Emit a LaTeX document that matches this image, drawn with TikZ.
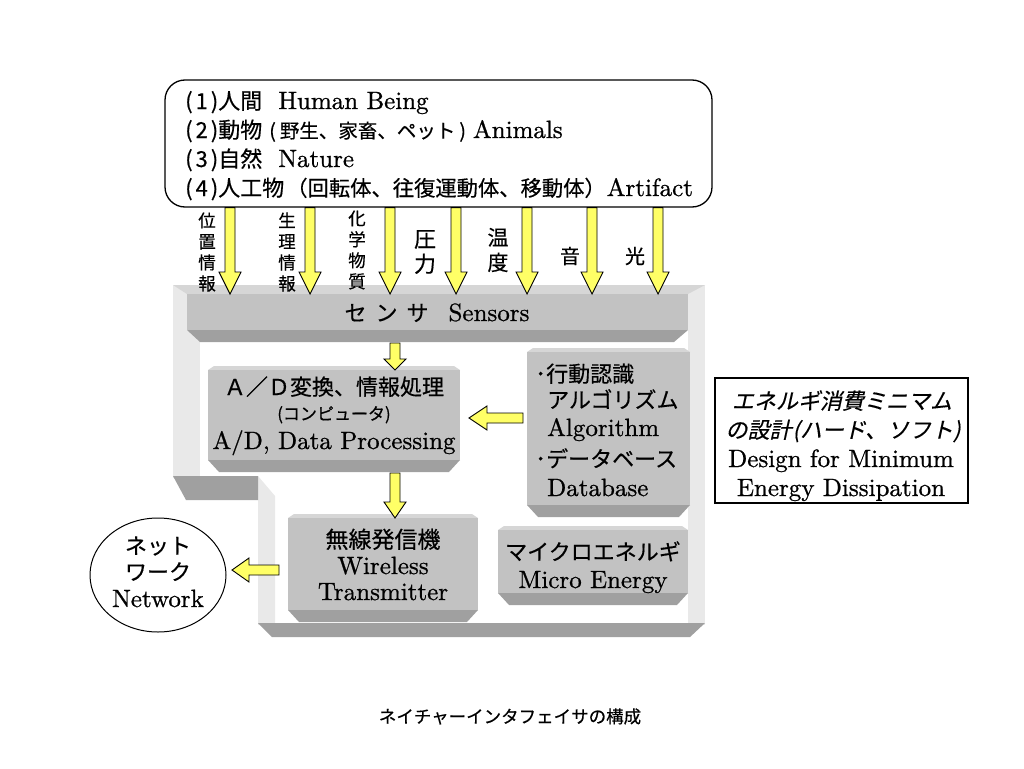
\documentclass[tikz,border=0pt]{standalone}
\usepackage{fontspec}
\setmainfont{lmroman10-regular.otf}[FakeBold=0.8]
\newfontfamily\jp{Noto Sans CJK JP}[FakeBold=0.4]
\newfontfamily\jpsl{Noto Sans CJK JP}[FakeSlant=0.22,FakeBold=0.4]
\usetikzlibrary{calc,shapes.geometric}
\definecolor{arrowyellow}{RGB}{255,255,102}
\definecolor{wallgray}{RGB}{233,233,233}
\definecolor{facegray}{RGB}{194,194,194}
\definecolor{topgray}{RGB}{214,214,214}
\definecolor{botgray}{RGB}{160,160,160}
\newcommand\jtxt[1]{{\jp\fontsize{22}{29}\selectfont #1}}
\newcommand\jsm[1]{{\jp\fontsize{19.5}{29}\selectfont #1}}
\newcommand\jsl[1]{{\jpsl\fontsize{22}{29}\selectfont #1}}
\newcommand\etxt[1]{{\fontsize{25}{29}\selectfont #1}}
\tikzset{
  barrow/.style={fill=arrowyellow, draw=black, line width=0.9pt, line join=miter},
  face/.style={fill=facegray, draw=none, inner sep=0pt},
  wall/.style={fill=wallgray},
  bevtop/.style={fill=topgray},
  bevbot/.style={fill=botgray},
  txt/.style={inner sep=0pt, anchor=base},
  txtl/.style={inner sep=0pt, anchor=base west},
  vlab/.style={inner sep=0pt, align=center, font=\jp\fontsize{17.5}{21}\selectfont},
  frame/.style={draw=black, line width=1.3pt, inner sep=0pt},
}
% beveled box: name, x1, y1, x2, y2
\newcommand\bbox[5]{%
  \fill[bevtop] (#2+6,#3-4) -- (#4-6,#3-4) -- (#4,#3) -- (#2,#3) -- cycle;
  \fill[bevbot] (#2,#5) -- (#4,#5) -- (#4-11,#5+12) -- (#2+11,#5+12) -- cycle;
  \node[face, anchor=north west, minimum width={(#4-#2)*1pt}, minimum height={(#5-#3)*1pt}] (#1) at (#2,#3) {};
}
% block arrow pointing down: head length, from, to
\newcommand\blockdown[3]{%
  \draw[barrow] let \p1=(#2), \p2=(#3) in
   (\x1-5pt,\y1) -- (\x1+5pt,\y1) -- (\x1+5pt,\y2+#1pt) -- (\x1+11pt,\y2+#1pt)
   -- (\x2,\y2) -- (\x1-11pt,\y2+#1pt) -- (\x1-5pt,\y2+#1pt) -- cycle;}
% block arrow pointing left: head length, from (right), to (left)
\newcommand\blockleft[3]{%
  \draw[barrow] let \p1=(#2), \p2=(#3) in
   (\x1,\y1+5pt) -- (\x1,\y1-5pt) -- (\x2+#1pt,\y1-5pt) -- (\x2+#1pt,\y1-12pt)
   -- (\x2,\y2) -- (\x2+#1pt,\y1+12pt) -- (\x2+#1pt,\y1+5pt) -- cycle;}
\begin{document}
\begin{tikzpicture}[x=1pt,y=-1pt]
\useasboundingbox (0,0) rectangle (1024,768);
\fill[white] (0,0) rectangle (1024,768);

% ---- frame (walls) ----
\fill[wall] (173,285) rectangle (200,478);
\fill[wall] (258,476) -- (275,496) -- (275,625) -- (258,625) -- cycle;
\fill[wall] (688,285) rectangle (705,625);
\fill[bevbot] (173,476) -- (258,476) -- (258,500) -- (186,500) -- cycle;
\fill[bevbot] (258,623) -- (705,623) -- (690,637) -- (272,637) -- cycle;

% ---- sensor bar ----
\fill[bevtop] (173,285) -- (705,285) -- (688,294) -- (187,294) -- cycle;
\fill[bevbot] (187,330) -- (688,330) -- (674,342) -- (200,342) -- cycle;
\node[face, anchor=north west, minimum width=501pt, minimum height=36pt] (sens) at (187,294) {};
\node[txt] (senst) at (437,321) {\jtxt{セ\hspace{9pt}ン\hspace{9pt}サ}\hspace{20pt}\etxt{Sensors}};

% ---- inner boxes ----
\bbox{ad}{208}{370}{460}{460}
\bbox{alg}{527}{352}{690}{505}
\bbox{wl}{288}{518}{478}{610}
\bbox{me}{498}{530}{688}{593}

\node[txt] (ad1) at (334,395) {\jtxt{Ａ／Ｄ変換、情報処理}};
\node[txt] (ad2) at (334,420) {{\jp\fontsize{17}{20}\selectfont (コンピュータ)}};
\node[txt] (ad3) at (334,449) {\etxt{A/D, Data Processing}};

\node[txtl] (al1) at (535,382) {\jtxt{･行動認識}};
\node[txtl] (al2) at (547,408) {\jtxt{アルゴリズム}};
\node[txtl] (al3) at (547,436) {\etxt{Algorithm}};
\node[txtl] (al4) at (535,467) {\jtxt{･データベース}};
\node[txtl] (al5) at (547,496) {\etxt{Database}};

\node[txt] (wl1) at (383,548) {{\jp\fontsize{23}{29}\selectfont 無線発信機}};
\node[txt] (wl2) at (383,574) {\etxt{Wireless}};
\node[txt] (wl3) at (383,600) {\etxt{Transmitter}};

\node[txt] (me1) at (593,560) {\jtxt{マイクロエネルギ}};
\node[txt] (me2) at (593,588) {\etxt{Micro Energy}};

% ---- source box ----
\node[frame, rounded corners=20pt, minimum width=547pt, minimum height=127pt] (src) at (438.5,143.5) {};
\node[txtl] (s1) at (185,109) {\jtxt{(\kern3pt 1\kern3pt)人間}\hspace{16pt}\etxt{Human Being}};
\node[txtl] (s2) at (185,138) {\jtxt{(\kern3pt 2\kern3pt)動物}\hspace{7pt}\jsm{(\kern4pt 野生、家畜、ペット\kern4pt)}\hspace{7pt}\etxt{Animals}};
\node[txtl] (s3) at (185,167) {\jtxt{(\kern3pt 3\kern3pt)自然}\hspace{16pt}\etxt{Nature}};
\node[txtl] (s4) at (185,196) {\jtxt{(\kern3pt 4\kern3pt)人工物}\hspace{2pt}{\jp\fontsize{21.3}{29}\selectfont （回転体、往復運動体、移動体）}\hspace{1pt}\etxt{Artifact}};

% ---- input labels ----
\node[vlab] (v1) at (207,252) {位\\置\\情\\報};
\node[vlab] (v2) at (287,252) {生\\理\\情\\報};
\node[vlab] (v3) at (357,250) {化\\学\\物\\質};
\node[vlab, font=\jp\fontsize{22}{25}\selectfont] (v4) at (425,252) {圧\\力};
\node[vlab, font=\jp\fontsize{21}{25}\selectfont] (v5) at (498,250) {温\\度};
\node[vlab, font=\jp\fontsize{20}{25}\selectfont] (v6) at (570,256) {音};
\node[vlab, font=\jp\fontsize{20}{25}\selectfont] (v7) at (635,256) {光};

% ---- arrows from source to sensors ----
\foreach \ax in {230,310,390,456,527,592,658}{
  \blockdown{22}{\ax,0 |- src.south}{\ax,0 |- sens.north}
}

% ---- internal arrows ----
\coordinate (sa) at (395,343);
\coordinate (adb) at (395,473);
\coordinate (algw) at (523,418);
\coordinate (adtip) at (469,418);
\coordinate (wlw) at (279,570);
\coordinate (nettip) at (232,570);
\blockdown{11}{sa}{ad.north -| sa}
\blockdown{16}{adb}{wl.north -| adb}
\blockleft{18}{algw}{adtip}
\blockleft{17}{wlw}{nettip}

% ---- network ----
\node[draw, ellipse, line width=1pt, minimum width=136pt, minimum height=114pt, inner sep=0pt] (net) at (158,575) {};
\node[txt] (n1) at (158,554) {\jtxt{ネット}};
\node[txt] (n2) at (158,580) {\jtxt{ワーク}};
\node[txt] (n3) at (158,607) {\etxt{Network}};

% ---- design box ----
\node[frame, minimum width=253pt, minimum height=125pt] (des) at (841.5,440.5) {};
\node[txt] (d1) at (842,409) {\jsl{エネルギ消費ミニマム}};
\node[txt] (d2) at (843,438) {\jsl{の設計\kern1pt(ハード、ソフト)}};
\node[txt] (d3) at (841,467) {\etxt{Design for Minimum}};
\node[txt] (d4) at (841,496) {\etxt{Energy Dissipation}};

% ---- caption ----
\node[txt] (cap) at (510,723) {{\jp\fontsize{17.5}{20}\selectfont ネイチャーインタフェイサの構成}};
\end{tikzpicture}
\end{document}
